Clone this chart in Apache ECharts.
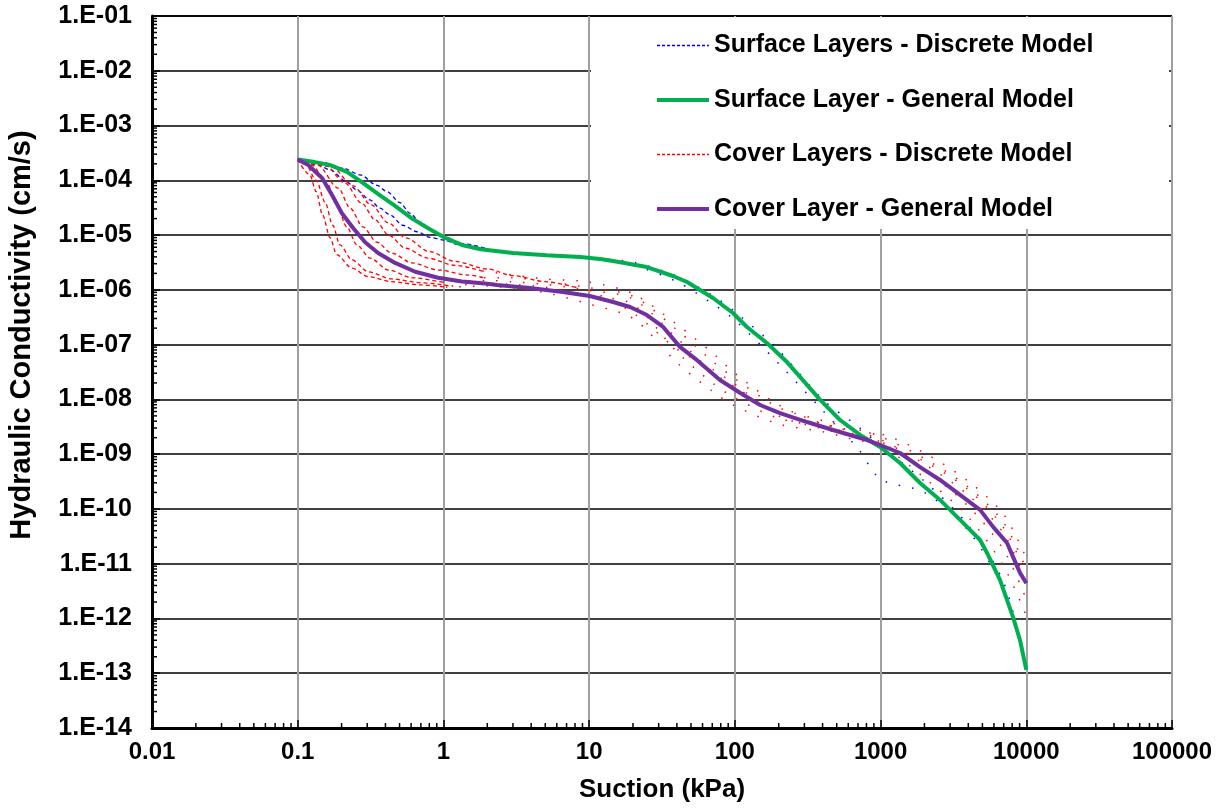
<!DOCTYPE html>
<html>
<head>
<meta charset="utf-8">
<script src="https://cdn.jsdelivr.net/npm/echarts@6/dist/echarts.min.js"></script>
<style>
html, body { margin: 0; padding: 0; background: #fff; }
#main { width: 1228px; height: 808px; }
</style>
</head>
<body>
<div id="main"></div>
<script>
// suction (kPa), hydraulic conductivity (cm/s)
var surfaceGeneral = [[0.1,2.4e-4],[0.131,2.15e-4],[0.167,1.9e-4],[0.218,1.42e-4],[0.28,9.0e-5],[0.367,5.3e-5],[0.466,3.4e-5],[0.61,2.0e-5],[0.78,1.35e-5],[1.0,9.2e-6],[1.34,6.6e-6],[1.8,5.5e-6],[3.0,4.7e-6],[5.1,4.3e-6],[8.7,3.98e-6],[11.9,3.66e-6],[14.6,3.36e-6],[24.9,2.61e-6],[37.6,1.79e-6],[47,1.39e-6],[70.8,7.1e-7],[97,3.78e-7],[121,2.1e-7],[166,1.07e-7],[228,4.8e-8],[280,2.57e-8],[385,9.8e-9],[527,4.2e-9],[723,2.24e-9],[993,1.35e-9],[1361,6.9e-10],[1867,2.97e-10],[2560,1.46e-10],[3513,6.3e-11],[4819,2.71e-11],[5380,1.57e-11],[6607,5.0e-12],[8110,1.06e-12],[9060,4.0e-13],[10000,1.15e-13]];
var coverGeneral = [[0.1,2.4e-4],[0.118,1.9e-4],[0.147,1.1e-4],[0.172,5.4e-5],[0.201,2.5e-5],[0.24,1.35e-5],[0.29,7.4e-6],[0.356,4.7e-6],[0.466,3.1e-6],[0.64,2.14e-6],[0.92,1.66e-6],[1.34,1.42e-6],[1.93,1.3e-6],[2.33,1.23e-6],[3.93,1.08e-6],[6.6,9.1e-7],[10.1,7.7e-7],[14.6,6.0e-7],[19.1,4.86e-7],[24.9,3.47e-7],[32.2,2.1e-7],[42,9.1e-8],[55,5.2e-8],[79,2.26e-8],[109,1.31e-8],[149,7.9e-9],[204,5.6e-9],[313,3.86e-9],[472,2.76e-9],[808,1.81e-9],[993,1.47e-9],[1361,1.05e-9],[1867,5.8e-10],[2560,3.38e-10],[3513,1.8e-10],[4819,9.6e-11],[5920,4.7e-11],[7380,2.39e-11],[8110,1.33e-11],[9060,6.8e-12],[10000,4.4e-12]];

// discrete models: dashed start, sparse dotted tail
var blueA = [[0.1,2.4e-4],[0.149,2.1e-4],[0.205,1.66e-4],[0.268,1.26e-4],[0.35,8.1e-5],[0.41,6.2e-5],[0.503,3.9e-5],[0.59,2.5e-5],[0.69,1.74e-5],[0.83,1.23e-5],[1.0,9.5e-6],[1.33,7.0e-6],[2,5.6e-6]];
var blueATail = [[2,5.6e-6],[3,4.7e-6],[5,4.3e-6],[10,3.8e-6],[20,3.2e-6],[40,1.78e-6],[70,7.9e-7],[100,4.0e-7],[200,7.9e-8],[400,1.0e-8],[700,3.2e-9],[1000,1.41e-9],[2000,3.2e-10],[4000,5.0e-11],[7000,4.5e-12],[10000,1.26e-13]];
var blueB = [[0.1,2.4e-4],[0.13,2.1e-4],[0.167,1.55e-4],[0.218,9.3e-5],[0.255,6.6e-5],[0.313,4.4e-5],[0.367,3.1e-5],[0.43,2.34e-5],[0.526,1.51e-5],[0.66,1.15e-5],[0.81,9.1e-6],[1.0,8.1e-6],[1.3,6.6e-6],[1.6,6.0e-6]];
var blueBTail = [[1.6,6.0e-6],[3,4.7e-6],[5,4.2e-6],[10,3.7e-6],[20,2.8e-6],[40,1.41e-6],[70,5.6e-7],[100,2.8e-7],[200,4.5e-8],[400,6.3e-9],[700,1.26e-9],[1000,3.5e-10],[2000,2.0e-10],[4000,4.0e-11],[7000,3.2e-12],[10000,1.12e-13]];

var redA = [[0.1,2.4e-4],[0.121,1.26e-4],[0.134,6.2e-5],[0.148,2.34e-5],[0.167,8.9e-6],[0.185,4.4e-6],[0.235,2.5e-6],[0.305,1.74e-6],[0.44,1.41e-6],[0.70,1.23e-6],[1.04,1.12e-6]];
var redATail = [[1.04,1.12e-6],[2,1.17e-6],[3,1.05e-6],[5,8.9e-7],[10,5.5e-7],[20,3.0e-7],[40,4.7e-8],[70,1.41e-8],[100,7.6e-9],[200,3.55e-9],[400,2.57e-9],[700,1.78e-9],[1000,1.48e-9],[2000,3.7e-10],[4000,7.1e-11],[7000,8.9e-12],[10000,1.12e-12]];
var redB = [[0.1,2.4e-4],[0.112,2.1e-4],[0.134,1.0e-4],[0.154,4.0e-5],[0.174,1.51e-5],[0.195,6.6e-6],[0.235,3.55e-6],[0.305,2.14e-6],[0.44,1.58e-6],[0.70,1.35e-6],[1.14,1.17e-6]];
var redBTail = [[1.14,1.17e-6],[2,1.32e-6],[3,1.25e-6],[5,1.12e-6],[10,7.8e-7],[20,5.4e-7],[40,7.4e-8],[70,2.0e-8],[100,1.07e-8],[200,4.5e-9],[400,3.2e-9],[700,2.24e-9],[1000,1.66e-9],[2000,5.2e-10],[4000,1.12e-10],[7000,1.78e-11],[10000,2.24e-12]];
var redC = [[0.1,2.4e-4],[0.125,1.9e-4],[0.159,8.9e-5],[0.185,3.55e-5],[0.217,1.41e-5],[0.255,6.6e-6],[0.313,3.8e-6],[0.42,2.3e-6],[0.61,1.66e-6],[0.98,1.38e-6]];
var redCTail = [[0.98,1.38e-6],[2,1.48e-6],[3,1.4e-6],[5,1.26e-6],[10,9.8e-7],[20,6.8e-7],[40,1.32e-7],[70,3.2e-8],[100,1.7e-8],[200,5.6e-9],[400,3.6e-9],[700,2.5e-9],[1000,1.86e-9],[2000,6.6e-10],[4000,1.78e-10],[7000,3.55e-11],[10000,4.5e-12]];
var redD = [[0.1,2.4e-4],[0.137,1.9e-4],[0.19,7.2e-5],[0.229,3.1e-5],[0.28,1.41e-5],[0.35,7.4e-6],[0.44,4.7e-6],[0.61,3.1e-6],[0.92,2.3e-6],[1.48,1.86e-6],[1.9,1.66e-6]];
var redDTail = [[1.9,1.66e-6],[3,1.66e-6],[5,1.41e-6],[10,1.1e-6],[20,7.6e-7],[40,1.86e-7],[70,5.0e-8],[100,2.4e-8],[200,7.1e-9],[400,4.1e-9],[700,2.8e-9],[1000,2.1e-9],[2000,8.3e-10],[4000,2.5e-10],[7000,5.6e-11],[10000,7.9e-12]];
var redE = [[0.1,2.4e-4],[0.154,1.9e-4],[0.211,8.9e-5],[0.275,3.8e-5],[0.34,1.9e-5],[0.42,1.0e-5],[0.55,5.75e-6],[0.78,3.8e-6],[1.2,2.8e-6],[1.85,2.2e-6]];
var redETail = [[1.85,2.2e-6],[3,1.86e-6],[5,1.58e-6],[10,1.38e-6],[20,8.5e-7],[40,2.34e-7],[70,7.1e-8],[100,3.0e-8],[200,7.9e-9],[400,3.6e-9],[700,2.5e-9],[1000,2.34e-9],[2000,1.05e-9],[4000,3.2e-10],[7000,7.9e-11],[10000,1.26e-11]];
var redF = [[0.1,2.4e-4],[0.17,1.78e-4],[0.24,7.9e-5],[0.32,3.55e-5],[0.42,1.66e-5],[0.55,8.9e-6],[0.8,5.0e-6],[1.2,3.3e-6],[2,2.4e-6],[3,1.82e-6],[5,1.41e-6],[8,1.12e-6]];
var redFTail = [[8,1.12e-6],[10,9.8e-7],[20,3.8e-7],[40,8.3e-8],[70,3.55e-8],[100,1.9e-8],[200,5.0e-9],[400,2.9e-9],[700,2.0e-9],[1000,1.66e-9],[2000,7.4e-10],[4000,2.24e-10],[7000,4.5e-11],[10000,6.3e-12]];

var nameSurfDisc = 'Surface Layers - Discrete Model';
var nameSurfGen = 'Surface Layer - General Model';
var nameCovDisc = 'Cover Layers - Discrete Model';
var nameCovGen = 'Cover Layer - General Model';

var xMin = 0.01, xMax = 100000;
var yMin = 1e-14, yMax = 1e-1;

// log minor tick positions (2..9 per decade)
var xMinor = [], yMinor = [];
for (var e = -2; e < 5; e++) {
    for (var m = 2; m < 10; m++) xMinor.push([m * Math.pow(10, e), yMin]);
}
for (var e2 = -14; e2 < -1; e2++) {
    for (var m2 = 2; m2 < 10; m2++) yMinor.push([xMin, m2 * Math.pow(10, e2)]);
}

var font = '"Liberation Sans", Arial, sans-serif';

function head(name, data, color) {
    return {
        name: name, type: 'line', data: data, showSymbol: false, symbol: 'none',
        smooth: 0.3, smoothMonotone: 'x', silent: true, z: 2,
        lineStyle: { color: color, width: 1.3, type: [4, 3] }, itemStyle: { color: color }
    };
}
function tail(name, data, color) {
    return {
        name: name, type: 'line', data: data, showSymbol: false, symbol: 'none',
        smooth: 0.3, silent: true, z: 2,
        lineStyle: { color: color, width: 1.5, type: [1.5, 12] }, itemStyle: { color: color }
    };
}
function ticks(data, dx, dy) {
    return {
        type: 'custom', data: data, silent: true, clip: false, z: 5,
        renderItem: function (params, api) {
            var p = api.coord([api.value(0), api.value(1)]);
            return { type: 'line', shape: { x1: p[0], y1: p[1], x2: p[0] + dx, y2: p[1] + dy },
                     style: { stroke: '#000', lineWidth: 1.5 } };
        }
    };
}

var myChart = echarts.init(document.getElementById('main'));
var option = {
    backgroundColor: '#fff',
    animation: false,
    grid: { left: 152, right: 56, top: 16, bottom: 80, show: true, borderColor: '#000', borderWidth: 1 },
    legend: {
        orient: 'vertical', left: 655, top: 33, padding: 0, itemGap: 29.5,
        itemWidth: 52, itemHeight: 14,
        itemStyle: { opacity: 0 },
        data: [
            { name: nameSurfDisc, lineStyle: { width: 1.3, type: [3, 2] } },
            { name: nameSurfGen, lineStyle: { width: 4 } },
            { name: nameCovDisc, lineStyle: { width: 1.3, type: [3, 2] } },
            { name: nameCovGen, lineStyle: { width: 4 } }
        ],
        textStyle: { fontFamily: font, fontWeight: 'bold', fontSize: 25, color: '#000', lineHeight: 25 }
    },
    graphic: [{
        // white box behind the legend
        type: 'rect', z: 1, silent: true,
        shape: { x: 591, y: 17, width: 578, height: 212 },
        style: { fill: '#fff' }
    }, {
        // y axis title
        type: 'text', z: 5, silent: true,
        x: 22, y: 335, rotation: Math.PI / 2,
        style: {
            text: 'Hydraulic Conductivity (cm/s)', fill: '#000',
            font: 'bold 29px "Liberation Sans", Arial, sans-serif',
            align: 'center', verticalAlign: 'middle'
        }
    }],
    xAxis: {
        type: 'log', logBase: 10, min: xMin, max: xMax, interval: 1,
        name: 'Suction (kPa)', nameLocation: 'middle', nameGap: 49,
        nameTextStyle: { fontFamily: font, fontWeight: 'bold', fontSize: 26, color: '#000' },
        axisLine: { lineStyle: { color: '#000', width: 3 } },
        axisTick: { inside: true, length: 8, lineStyle: { color: '#000', width: 1.5 } },
        axisLabel: {
            margin: 12, fontFamily: font, fontWeight: 'bold', fontSize: 24, color: '#000',
            showMinLabel: true, showMaxLabel: true,
            formatter: function (v) {
                var p = Math.round(Math.log10(v));
                return p < 0 ? Math.pow(10, p).toFixed(-p) : String(Math.round(Math.pow(10, p)));
            }
        },
        splitLine: { show: true, lineStyle: { color: '#a0a0a0', width: 2 } }
    },
    yAxis: {
        type: 'log', logBase: 10, min: yMin, max: yMax, interval: 1,
        axisLine: { show: true, lineStyle: { color: '#000', width: 3 } },
        axisTick: { show: true, inside: true, length: 8, lineStyle: { color: '#000', width: 1.5 } },
        axisLabel: {
            margin: 20, fontFamily: font, fontWeight: 'bold', fontSize: 25, color: '#000',
            showMinLabel: true, showMaxLabel: true,
            formatter: function (v) {
                var p = Math.round(Math.log10(v));
                var s = String(Math.abs(p));
                if (s.length < 2) s = '0' + s;
                return '1.E' + (p < 0 ? '-' : '+') + s;
            }
        },
        splitLine: { show: true, lineStyle: { color: '#000', width: 1.5 } }
    },
    series: [
        head(nameSurfDisc, blueA, '#0000ff'),
        head(nameSurfDisc, blueB, '#0000ff'),
        tail(nameSurfDisc, blueATail, '#0000ff'),
        tail(nameSurfDisc, blueBTail, '#0000ff'),
        {
            name: nameSurfGen, type: 'line', data: surfaceGeneral, showSymbol: false, symbol: 'none',
            smooth: false, silent: true, z: 3,
            lineStyle: { color: '#00b050', width: 4 }, itemStyle: { color: '#00b050' }
        },
        head(nameCovDisc, redA, '#ff0000'),
        head(nameCovDisc, redB, '#ff0000'),
        head(nameCovDisc, redC, '#ff0000'),
        head(nameCovDisc, redD, '#ff0000'),
        head(nameCovDisc, redE, '#ff0000'),
        head(nameCovDisc, redF, '#ff0000'),
        tail(nameCovDisc, redATail, '#ff0000'),
        tail(nameCovDisc, redBTail, '#ff0000'),
        tail(nameCovDisc, redCTail, '#ff0000'),
        tail(nameCovDisc, redDTail, '#ff0000'),
        tail(nameCovDisc, redETail, '#ff0000'),
        tail(nameCovDisc, redFTail, '#ff0000'),
        {
            name: nameCovGen, type: 'line', data: coverGeneral, showSymbol: false, symbol: 'none',
            smooth: false, silent: true, z: 4,
            lineStyle: { color: '#7030a0', width: 4 }, itemStyle: { color: '#7030a0' }
        },
        ticks(xMinor, 0, -5),
        ticks(yMinor, 5, 0)
    ]
};
myChart.setOption(option);
</script>
</body>
</html>
